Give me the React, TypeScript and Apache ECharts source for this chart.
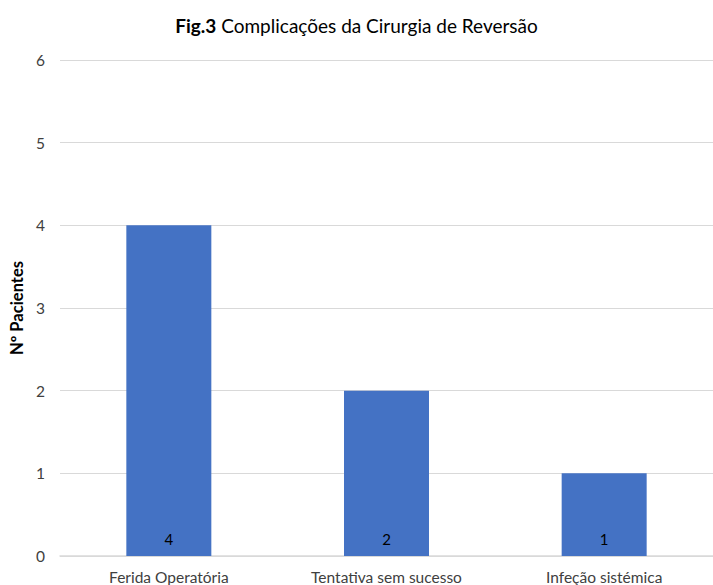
import React, { useEffect, useRef } from "react";
import * as echarts from "echarts";

const categories = ["Ferida Operatória", "Tentativa sem sucesso", "Infeção sistémica"];
const values = [4, 2, 1];
const titleBold = "Fig.3";
const titleRest = " Complicações da Cirurgia de Reversão";
const yAxisName = "Nº Pacientes";

const FONT = "Lato, 'Open Sans', sans-serif";

export default function App() {
  const ref = useRef<HTMLDivElement>(null);
  useEffect(() => {
    if (!ref.current) return;
    const chart = echarts.init(ref.current, null, { renderer: "svg" });
    chart.setOption({
      animation: false,
      backgroundColor: "#ffffff",
      title: {
        text: `{b|${titleBold}}{n|${titleRest}}`,
        left: "center",
        top: 11,
        textStyle: {
          fontWeight: "normal",
          rich: {
            b: { fontFamily: FONT, fontSize: 19, fontWeight: "bold", color: "#000" },
            n: { fontFamily: FONT, fontSize: 19, fontWeight: "normal", color: "#000" },
          },
        },
      },
      grid: { left: 58, top: 60, width: 660, height: 496 },
      xAxis: {
        type: "category",
        data: categories,
        axisTick: { show: false },
        axisLine: { lineStyle: { color: "#d9d9d9", width: 1.5 } },
        axisLabel: { fontFamily: FONT, fontSize: 15.5, color: "#404040", margin: 13 },
      },
      yAxis: {
        type: "value",
        min: 0,
        max: 6,
        interval: 1,
        name: yAxisName,
        nameLocation: "middle",
        nameGap: 35,
        nameTextStyle: { fontFamily: FONT, fontSize: 16.5, fontWeight: "bold", color: "#000" },
        axisLabel: { fontFamily: FONT, fontSize: 15.5, color: "#404040", margin: 15 },
        splitLine: { lineStyle: { color: "#d9d9d9", width: 1 } },
      },
      series: [
        {
          type: "bar",
          data: values,
          barWidth: 85,
          itemStyle: { color: "#4472C4" },
          label: {
            show: true,
            position: "insideBottom",
            distance: 10,
            fontFamily: FONT,
            fontSize: 15,
            color: "#000",
          },
        },
      ],
    });
    return () => chart.dispose();
  }, []);
  return (
    <div
      ref={ref}
      style={{ position: "fixed", left: 0, top: 0, width: 713, height: 585 }}
    />
  );
}
